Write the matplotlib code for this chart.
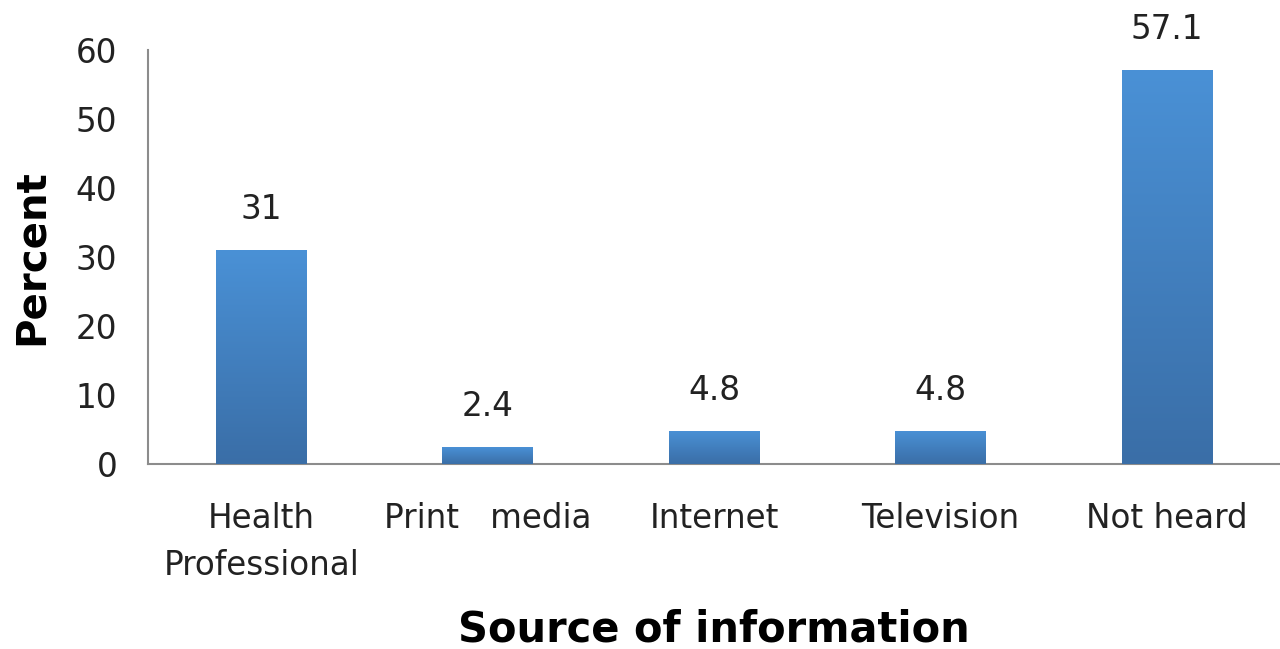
import numpy as np
import matplotlib
matplotlib.use("Agg")
import matplotlib.pyplot as plt
from matplotlib.colors import LinearSegmentedColormap

# data
categories = ["Health\nProfessional", "Print   media", "Internet", "Television", "Not heard"]
percent = [31, 2.4, 4.8, 4.8, 57.1]
value_labels = ["31", "2.4", "4.8", "4.8", "57.1"]

plt.rcParams['font.family'] = ['DejaVu Sans']

fig = plt.figure(figsize=(12.8, 6.49), dpi=100)
ax = fig.add_axes([0.1156, 0.285, 0.8844, 0.638])

x = np.arange(len(categories))
bars = ax.bar(x, percent, width=0.4, color="#4589cc", zorder=2)

# vertical gradient fill on each bar (light top, darker bottom)
cmap = LinearSegmentedColormap.from_list("bargrad", ["#3a6ea7", "#4a91d6"])
grad = np.linspace(0, 1, 256).reshape(-1, 1)
for b in bars:
    x0, w, h = b.get_x(), b.get_width(), b.get_height()
    im = ax.imshow(grad, cmap=cmap, aspect="auto", origin="lower",
                   extent=[x0, x0 + w, 0, h], zorder=3)
    im.set_clip_path(b)

for xi, v, lab in zip(x, percent, value_labels):
    ax.text(xi, v + 3.5, lab, ha="center", va="bottom", fontsize=23.5, color="#222222")

ax.set_xlim(-0.5, 4.5)
ax.set_ylim(0, 60)
ax.set_yticks(range(0, 61, 10))
ax.set_xticks(x)
ax.set_xticklabels(categories, linespacing=1.55)
ax.tick_params(axis="both", length=0, labelsize=23.5, colors="#222222")
ax.tick_params(axis="x", pad=27)
ax.tick_params(axis="y", pad=22)

for s in ["top", "right"]:
    ax.spines[s].set_visible(False)
ax.spines["left"].set_color("#8c8c8c")
ax.spines["bottom"].set_color("#8c8c8c")
ax.spines["left"].set_linewidth(1.5)
ax.spines["bottom"].set_linewidth(1.5)

ax.set_ylabel("Percent", fontsize=29, fontweight="bold", labelpad=17)
ax.set_xlabel("Source of information", fontsize=30, fontweight="bold", labelpad=19)

fig.savefig("out.png", dpi=100)
